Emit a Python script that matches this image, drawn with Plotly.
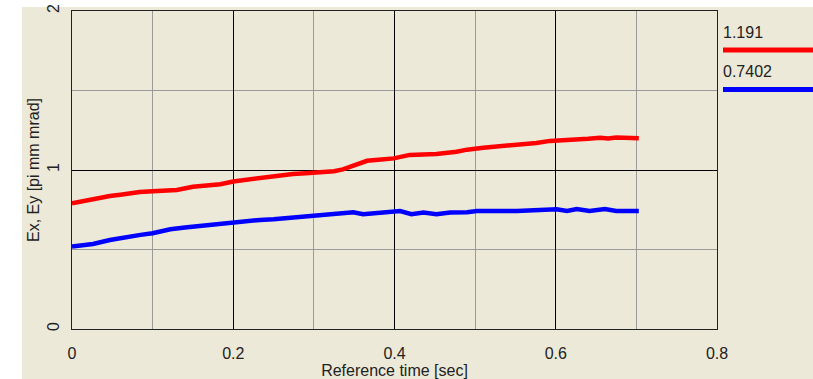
import plotly.graph_objects as go

# ---- data ----
red_t = [0.000, 0.010, 0.020, 0.030, 0.047, 0.060, 0.084, 0.100, 0.130, 0.150,
         0.170, 0.184, 0.200, 0.215, 0.233, 0.255, 0.274, 0.290, 0.308, 0.325,
         0.336, 0.345, 0.353, 0.366, 0.380, 0.399, 0.419, 0.436, 0.452, 0.477,
         0.490, 0.510, 0.527, 0.547, 0.560, 0.576, 0.593, 0.610, 0.626, 0.640,
         0.655, 0.665, 0.675, 0.690, 0.703]
red_v = [0.790, 0.800, 0.815, 0.822, 0.836, 0.845, 0.862, 0.866, 0.874, 0.895,
         0.902, 0.910, 0.928, 0.938, 0.948, 0.960, 0.975, 0.980, 0.983, 0.992,
         1.004, 1.020, 1.036, 1.058, 1.065, 1.073, 1.095, 1.097, 1.100, 1.115,
         1.128, 1.140, 1.147, 1.162, 1.166, 1.170, 1.183, 1.186, 1.189, 1.196,
         1.203, 1.198, 1.205, 1.203, 1.199]

blue_t = [0.000, 0.013, 0.026, 0.047, 0.068, 0.085, 0.100, 0.122, 0.140, 0.159,
          0.180, 0.200, 0.215, 0.233, 0.250, 0.266, 0.291, 0.316, 0.335, 0.349,
          0.361, 0.386, 0.407, 0.421, 0.436, 0.452, 0.469, 0.490, 0.502, 0.552,
          0.601, 0.614, 0.626, 0.642, 0.661, 0.675, 0.703]
blue_v = [0.518, 0.525, 0.535, 0.560, 0.580, 0.592, 0.602, 0.627, 0.638, 0.648,
          0.660, 0.671, 0.678, 0.686, 0.690, 0.696, 0.711, 0.717, 0.727, 0.734,
          0.722, 0.732, 0.742, 0.722, 0.732, 0.722, 0.732, 0.735, 0.742, 0.742,
          0.753, 0.742, 0.755, 0.742, 0.755, 0.742, 0.742]

legend_labels = ["1.191", "0.7402"]
legend_colors = ["#ff0000", "#0000ff"]

x_ticks = [0, 0.2, 0.4, 0.6, 0.8]
x_ticktext = ["0", "0.2", "0.4", "0.6", "0.8"]
y_ticks = [0, 1, 2]
y_ticktext = ["0", "1", "2"]

BG = "#ece9d8"
FONT = "Liberation Sans, Arial, sans-serif"

fig = go.Figure()
fig.add_trace(go.Scatter(x=red_t, y=red_v, mode="lines",
                         line=dict(color=legend_colors[0], width=4.5), showlegend=False))
fig.add_trace(go.Scatter(x=blue_t, y=blue_v, mode="lines",
                         line=dict(color=legend_colors[1], width=4.5), showlegend=False))

W, H = 813, 379
L, R, T, B = 72, 96, 11, 50
pw, ph = W - L - R, H - T - B

def px_x(p):
    return (p - L) / pw

def px_y(p):
    return (H - B - p) / ph

shapes = []
# white strips on top and left (behind everything else)
shapes.append(dict(type="rect", xref="paper", yref="paper", x0=px_x(-5), x1=px_x(W + 5),
                   y0=px_y(-5), y1=px_y(7), fillcolor="white", line=dict(width=0), layer="below"))
shapes.append(dict(type="rect", xref="paper", yref="paper", x0=px_x(-5), x1=px_x(22),
                   y0=px_y(H + 5), y1=px_y(-5), fillcolor="white", line=dict(width=0), layer="below"))

annotations = []
leg_text_y = [32.5, 71.5]
leg_line_y = [50, 89.5]
for lab, col, ty, ly in zip(legend_labels, legend_colors, leg_text_y, leg_line_y):
    annotations.append(dict(text=lab, xref="paper", yref="paper", x=px_x(721), y=px_y(ty),
                            xanchor="left", yanchor="middle", showarrow=False,
                            font=dict(family=FONT, size=16, color="#222")))
    shapes.append(dict(type="line", xref="paper", yref="paper", x0=px_x(723), x1=px_x(W + 5),
                       y0=px_y(ly), y1=px_y(ly), line=dict(color=col, width=5)))

fig.update_layout(
    width=W, height=H,
    margin=dict(l=L, r=R, t=T, b=B, pad=0, autoexpand=False),
    paper_bgcolor=BG, plot_bgcolor=BG,
    font=dict(family=FONT, size=16, color="#222"),
    shapes=shapes, annotations=annotations,
    xaxis=dict(range=[0, 0.8], tickvals=x_ticks, ticktext=x_ticktext, automargin=False,
               showgrid=True, gridcolor="#000000", gridwidth=1,
               minor=dict(dtick=0.1, tick0=0, showgrid=True, gridcolor="#9a9a9a", gridwidth=1, ticks=""),
               showline=True, linecolor="#222", linewidth=1, mirror=True,
               zeroline=False, ticks="", ticklen=0, ticklabelstandoff=10,
               title=dict(text="Reference time [sec]", standoff=6,
                          font=dict(family=FONT, size=16, color="#222")),
               tickfont=dict(family=FONT, size=16, color="#222")),
    yaxis=dict(range=[0, 2], tickvals=y_ticks, ticktext=y_ticktext, tickangle=-90, automargin=False,
               showgrid=True, gridcolor="#000000", gridwidth=1,
               minor=dict(dtick=0.5, tick0=0, showgrid=True, gridcolor="#9a9a9a", gridwidth=1, ticks=""),
               showline=True, linecolor="#222", linewidth=1, mirror=True,
               zeroline=False, ticks="", ticklen=0, ticklabelstandoff=6,
               title=dict(text="Ex, Ey [pi mm mrad]", standoff=0,
                          font=dict(family=FONT, size=16, color="#222")),
               tickfont=dict(family=FONT, size=16, color="#222")),
)

fig.write_html("out.html")
